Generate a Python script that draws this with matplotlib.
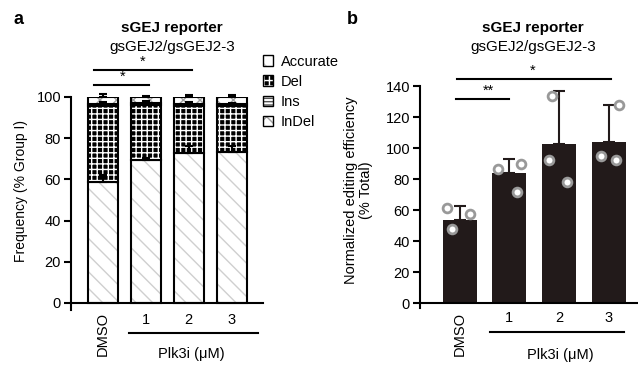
import matplotlib
matplotlib.use('Agg')
import matplotlib.pyplot as plt
from matplotlib.patches import Patch
import numpy as np

plt.rcParams['font.family'] = ['Liberation Sans', 'DejaVu Sans']
plt.rcParams['hatch.linewidth'] = 1.0

# data
groups = ["DMSO", "1", "2", "3"]
accurate = [58.5, 69.5, 73.0, 73.2]
deletion = [37.0, 26.7, 22.5, 22.3]
insertion = [1.0, 0.8, 1.0, 1.0]
indel = [3.5, 3.0, 3.5, 3.5]
err_accurate = [3.5, 0.7, 3.0, 3.0]
err_ins = [1.0, 1.0, 1.0, 0.8]
err_top = [1.5, 0.5, 0.8, 0.8]

eff_mean = [54.0, 84.0, 103.0, 104.0]
eff_err = [8.5, 9.0, 34.0, 24.0]
eff_points = [[61.5, 48.2, 57.9], [86.9, 71.6, 90.1], [133.8, 92.7, 78.3], [127.7, 95.0, 92.7]]
jitter = [[-0.26, -0.16, 0.2], [-0.23, 0.15, 0.23], [-0.14, -0.2, 0.16], [0.2, -0.16, 0.14]]

fig = plt.figure(figsize=(6.38, 3.73), dpi=100)
ax1 = fig.add_axes([0.111, 0.169, 0.301, 0.571])
ax2 = fig.add_axes([0.658, 0.174, 0.340, 0.595])

x = np.arange(len(groups))

# 패턴 스타일 (pattern bar + outline)
styles = {
    "Accurate": dict(facecolor="white", edgecolor="#cfcfcf", hatch="\\\\"),
    "Del": dict(facecolor="black", edgecolor="white", hatch="+++"),
    "Ins": dict(facecolor="white", edgecolor="#555555", hatch="-----"),
    "InDel": dict(facecolor="white", edgecolor="#a0a0a0", hatch="xx"),
}

def stacked(ax, vals, bottom, st, w=0.7):
    ax.bar(x, vals, w, bottom=bottom, linewidth=0, **st)
    ax.bar(x, vals, w, bottom=bottom, fill=False, edgecolor="black", linewidth=1.5)

bottom = np.zeros(4)
for name, vals in [("Accurate", accurate), ("Del", deletion), ("Ins", insertion), ("InDel", indel)]:
    stacked(ax1, vals, bottom, styles[name])
    bottom = bottom + np.array(vals)

acc_top = np.array(accurate)
ins_top = acc_top + np.array(deletion) + np.array(insertion)
tot_top = ins_top + np.array(indel)
for tops, errs in [(acc_top, err_accurate), (ins_top, err_ins), (tot_top, err_top)]:
    ax1.errorbar(x, tops, yerr=[np.zeros(4), errs], fmt="none", ecolor="black",
                 elinewidth=1.5, capsize=3, capthick=1.5, clip_on=False)

ax1.set_xlim(-0.74, 3.72)
ax1.set_ylim(-3.4, 100)
ax1.set_yticks([0, 20, 40, 60, 80, 100])
ax1.spines['bottom'].set_position(('data', 0))

# 유의성 표시
ax1.plot([-0.19, 2.07], [113, 113], color="black", lw=1.5, clip_on=False)
ax1.text(0.93, 113.5, "*", ha="center", va="bottom", fontsize=10.5)
ax1.plot([-0.19, 1.07], [105.8, 105.8], color="black", lw=1.5, clip_on=False)
ax1.text(0.47, 106.3, "*", ha="center", va="bottom", fontsize=10.5)

ax1.set_ylabel("Frequency (% Group I)", fontsize=10)
ax1.yaxis.set_label_coords(-0.225, 0.56)

handles = [(Patch(linewidth=0, **styles[n]), Patch(fill=False, edgecolor="black", linewidth=1))
           for n in ["Accurate", "Del", "Ins", "InDel"]]
fig.legend(handles, ["Accurate", "Del", "Ins", "InDel"], loc="upper left",
           bbox_to_anchor=(0.391, 0.889), frameon=False, fontsize=10.5,
           handlelength=0.7, handleheight=0.7, handletextpad=0.55, labelspacing=0.42)

# panel b
ax2.bar(x, eff_mean, 0.68, color="#221a1a")
ax2.errorbar(x, eff_mean, yerr=[np.zeros(4), eff_err], fmt="none", ecolor="#221a1a",
             elinewidth=1.5, capsize=4, capthick=1.5, clip_on=False)
for i in range(4):
    ax2.scatter(x[i] + np.array(jitter[i]), eff_points[i], s=40, facecolor="white",
                edgecolor="#999999", linewidth=2, zorder=3, clip_on=False)

ax2.set_xlim(-0.8, 3.56)
ax2.set_ylim(-3, 140)
ax2.set_yticks([0, 20, 40, 60, 80, 100, 120, 140])
ax2.spines['bottom'].set_position(('data', 0))

ax2.plot([-0.06, 3.04], [144.7, 144.7], color="black", lw=1.5, clip_on=False)
ax2.text(1.47, 145.5, "*", ha="center", va="bottom", fontsize=10.5)
ax2.plot([-0.08, 1.0], [132, 132], color="black", lw=1.5, clip_on=False)
ax2.text(0.58, 132.5, "**", ha="center", va="bottom", fontsize=10.5)

ax2.set_ylabel("Normalized editing efficiency\n(% Total)", fontsize=10.5, linespacing=1.1)
ax2.yaxis.set_label_coords(-0.215, 0.53)

for ax, ylab, yline, yplk, ydmso in [(ax1, -8.2, -14.5, -25, -15), (ax2, -9.7, -18.7, -33, -19.4)]:
    for s in ['top', 'right']:
        ax.spines[s].set_visible(False)
    for s in ['left', 'bottom']:
        ax.spines[s].set_linewidth(1.5)
    ax.tick_params(axis='y', length=5, width=1.5, labelsize=10.5, pad=2)
    ax.tick_params(axis='x', length=0, labelbottom=False)
    ax.text(0, ydmso, "DMSO", rotation=90, ha="center", va="center", fontsize=10.5)
    for i in range(1, 4):
        ax.text(x[i], ylab, groups[i], ha="center", va="center", fontsize=10.5)
    ax.plot([0.62, 3.6 if ax is ax1 else 3.3], [yline, yline], color="black", lw=1.5, clip_on=False)
    ax.text(2.05 if ax is ax1 else 2.02, yplk, "Plk3i (μM)", ha="center", va="center", fontsize=10.5)

for cx, label in [(172, "a"), (533, "b")]:
    fig.text(cx / 638, 1 - 28 / 373, "sGEJ reporter", ha="center", va="center",
             fontsize=11, fontweight="bold")
    fig.text(cx / 638, 1 - 47 / 373, "gsGEJ2/gsGEJ2-3", ha="center", va="center", fontsize=11)
fig.text(18 / 638, 1 - 20 / 373, "a", ha="center", va="center", fontsize=13, fontweight="bold")
fig.text(352 / 638, 1 - 20 / 373, "b", ha="center", va="center", fontsize=13, fontweight="bold")

fig.savefig("out.png", dpi=100)
